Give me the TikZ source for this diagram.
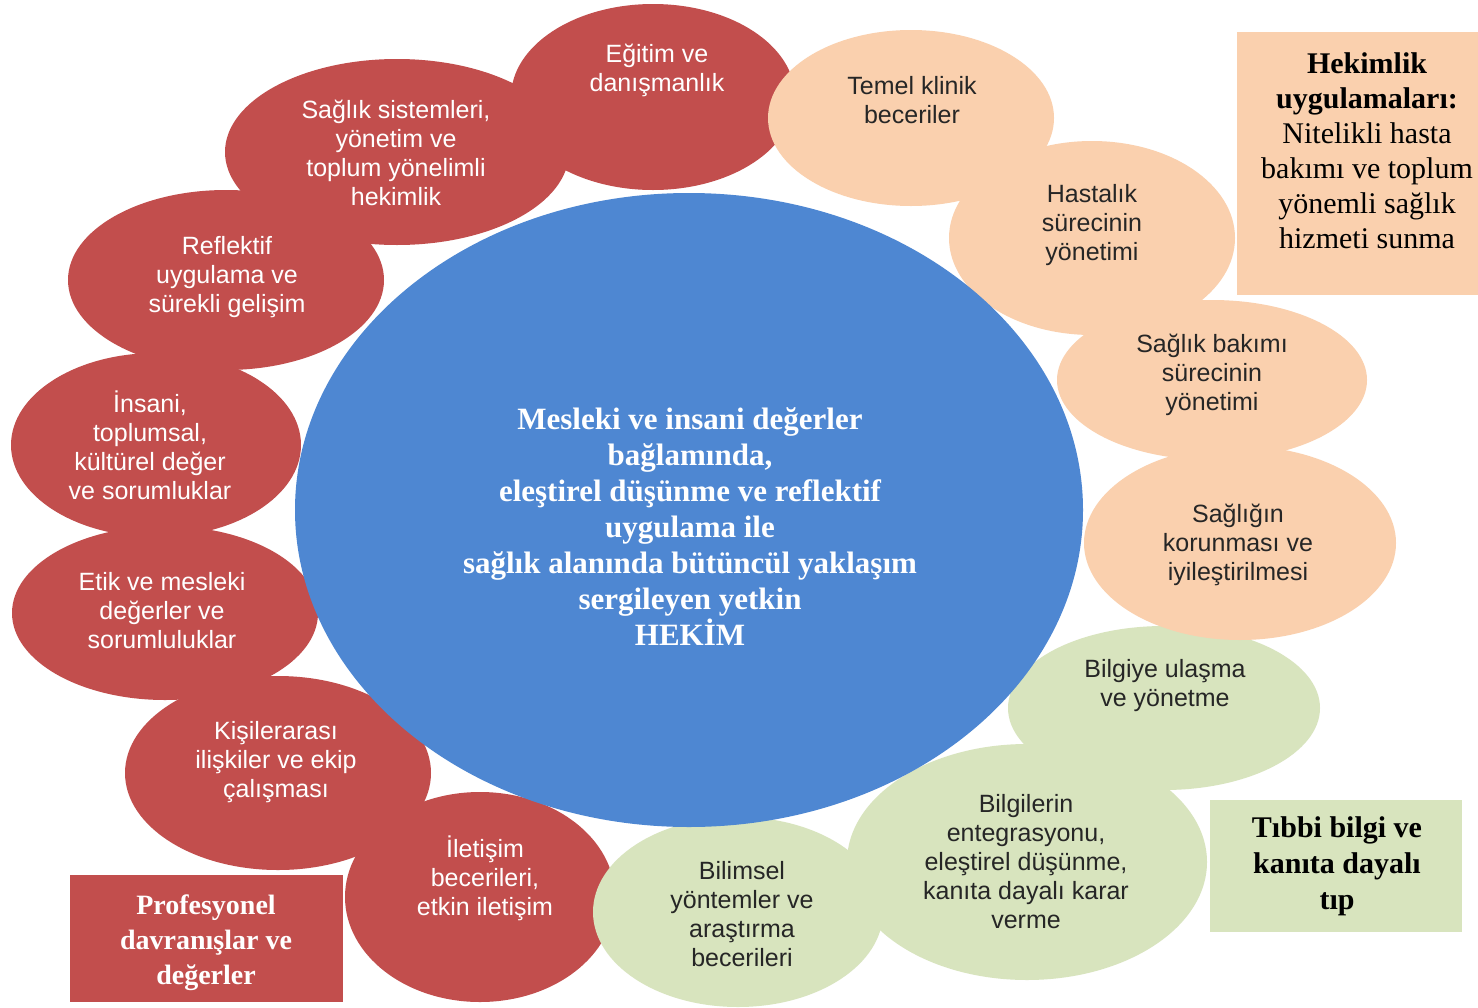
\documentclass[tikz,border=0pt]{standalone}
\usepackage{fontspec}
\setmainfont{Liberation Serif}
\newfontfamily\bubfont{Liberation Sans}
\usetikzlibrary{shapes.geometric}
\definecolor{myred}{HTML}{C24E4D}
\definecolor{myblue}{HTML}{4E87D2}
\definecolor{mypeach}{HTML}{FAD0AE}
\definecolor{mygreen}{HTML}{D8E4BE}
\definecolor{darktext}{HTML}{262626}
\tikzset{
  bub/.style={ellipse, inner sep=0pt, draw=none},
  redbub/.style={bub, fill=myred},
  peachbub/.style={bub, fill=mypeach},
  greenbub/.style={bub, fill=mygreen},
  btext/.style={font=\bubfont\fontsize{25}{29}\selectfont, align=center, inner sep=0pt},
  wtext/.style={btext, text=white},
  dtext/.style={btext, text=darktext},
  boxtext/.style={font=\fontsize{30}{36}\selectfont\bfseries, align=center, inner sep=0pt},
}
\begin{document}
\begin{tikzpicture}[x=1pt,y=-1pt]
\fill[white] (0,0) rectangle (1478,1007);
\useasboundingbox (0,0) rectangle (1478,1007);
% red bubbles
\node[redbub, minimum width=284pt, minimum height=186pt] (r1) at (653,97) {};
\node[redbub, minimum width=344pt, minimum height=186pt] (r2) at (397,152) {};
\node[redbub, minimum width=316pt, minimum height=180pt] (r3) at (226,280) {};
\node[redbub, minimum width=290pt, minimum height=184pt] (r4) at (156,445) {};
\node[redbub, minimum width=306pt, minimum height=174pt] (r5) at (165,613) {};
\node[redbub, minimum width=306pt, minimum height=194pt] (r6) at (278,773) {};
\node[redbub, minimum width=270pt, minimum height=210pt] (r7) at (480,897) {};
% green bubbles
\node[greenbub, minimum width=312pt, minimum height=164pt] (g1) at (1164,708) {};
\node[greenbub, minimum width=360pt, minimum height=236pt] (g2) at (1027,862) {};
\node[greenbub, minimum width=290pt, minimum height=190pt] (g3) at (738,912) {};
% peach bubbles
\node[peachbub, minimum width=286pt, minimum height=176pt] (p1) at (911,118) {};
\node[peachbub, minimum width=286pt, minimum height=194pt] (p2) at (1092,238) {};
\node[peachbub, minimum width=310pt, minimum height=160pt] (p3) at (1212,380) {};
\node[peachbub, minimum width=312pt, minimum height=194pt] (p4) at (1240,543) {};
% central ellipse
\node[bub, fill=myblue, minimum width=788pt, minimum height=634pt] (hub) at (689,510) {};
% boxes
\fill[myred] (70,875) rectangle (343,1002);
\fill[mypeach] (1237,32) rectangle (1478,295);
\fill[mygreen] (1210,800) rectangle (1462,932);
% texts
\node[wtext] (t1) at (657,70) {Eğitim ve\\danışmanlık};
\node[wtext] (t2) at (396,153) {Sağlık sistemleri,\\yönetim ve\\toplum yönelimli\\hekimlik};
\node[wtext] (t3) at (227,277) {Reflektif\\uygulama ve\\sürekli gelişim};
\node[wtext] (t4) at (150,445) {İnsani,\\toplumsal,\\kültürel değer\\ve sorumluklar};
\node[wtext] (t5) at (162,611) {Etik ve mesleki\\değerler ve\\sorumluluklar};
\node[wtext] (t6) at (276,762) {Kişilerarası\\ilişkiler ve ekip\\çalışması};
\node[wtext] (t7) at (485,878) {İletişim\\becerileri,\\etkin iletişim};
\node[dtext] (tp1) at (912,100) {Temel klinik\\beceriler};
\node[dtext] (tp2) at (1092,225) {Hastalık\\sürecinin\\yönetimi};
\node[dtext] (tp3) at (1212,375) {Sağlık bakımı\\sürecinin\\yönetimi};
\node[dtext] (tp4) at (1238,545) {Sağlığın\\korunması ve\\iyileştirilmesi};
\node[dtext] (tg1) at (1165,686) {Bilgiye ulaşma\\ve yönetme};
\node[dtext] (tg2) at (1026,862) {Bilgilerin\\entegrasyonu,\\eleştirel düşünme,\\kanıta dayalı karar\\verme};
\node[dtext] (tg3) at (742,914) {Bilimsel\\yöntemler ve\\araştırma\\becerileri};
\node[font=\fontsize{31}{36}\selectfont\bfseries, align=center, text=white, inner sep=0pt] (thub) at (690,527)
  {Mesleki ve insani değerler\\bağlamında,\\eleştirel düşünme ve reflektif\\uygulama ile\\sağlık alanında bütüncül yaklaşım\\sergileyen yetkin\\HEKİM};
\node[font=\fontsize{30}{35}\selectfont, align=center, text=black, inner sep=0pt] (tbox1) at (1367,151)
  {\textbf{Hekimlik}\\\textbf{uygulamaları:}\\Nitelikli hasta\\bakımı ve toplum\\yönemli sağlık\\hizmeti sunma};
\node[boxtext, text=black] (tbox2) at (1337,866) {Tıbbi bilgi ve\\kanıta dayalı\\tıp};
\node[boxtext, text=white, font=\fontsize{28}{35}\selectfont\bfseries] (tbox3) at (206,943) {Profesyonel\\davranışlar ve\\değerler};
\end{tikzpicture}
\end{document}
